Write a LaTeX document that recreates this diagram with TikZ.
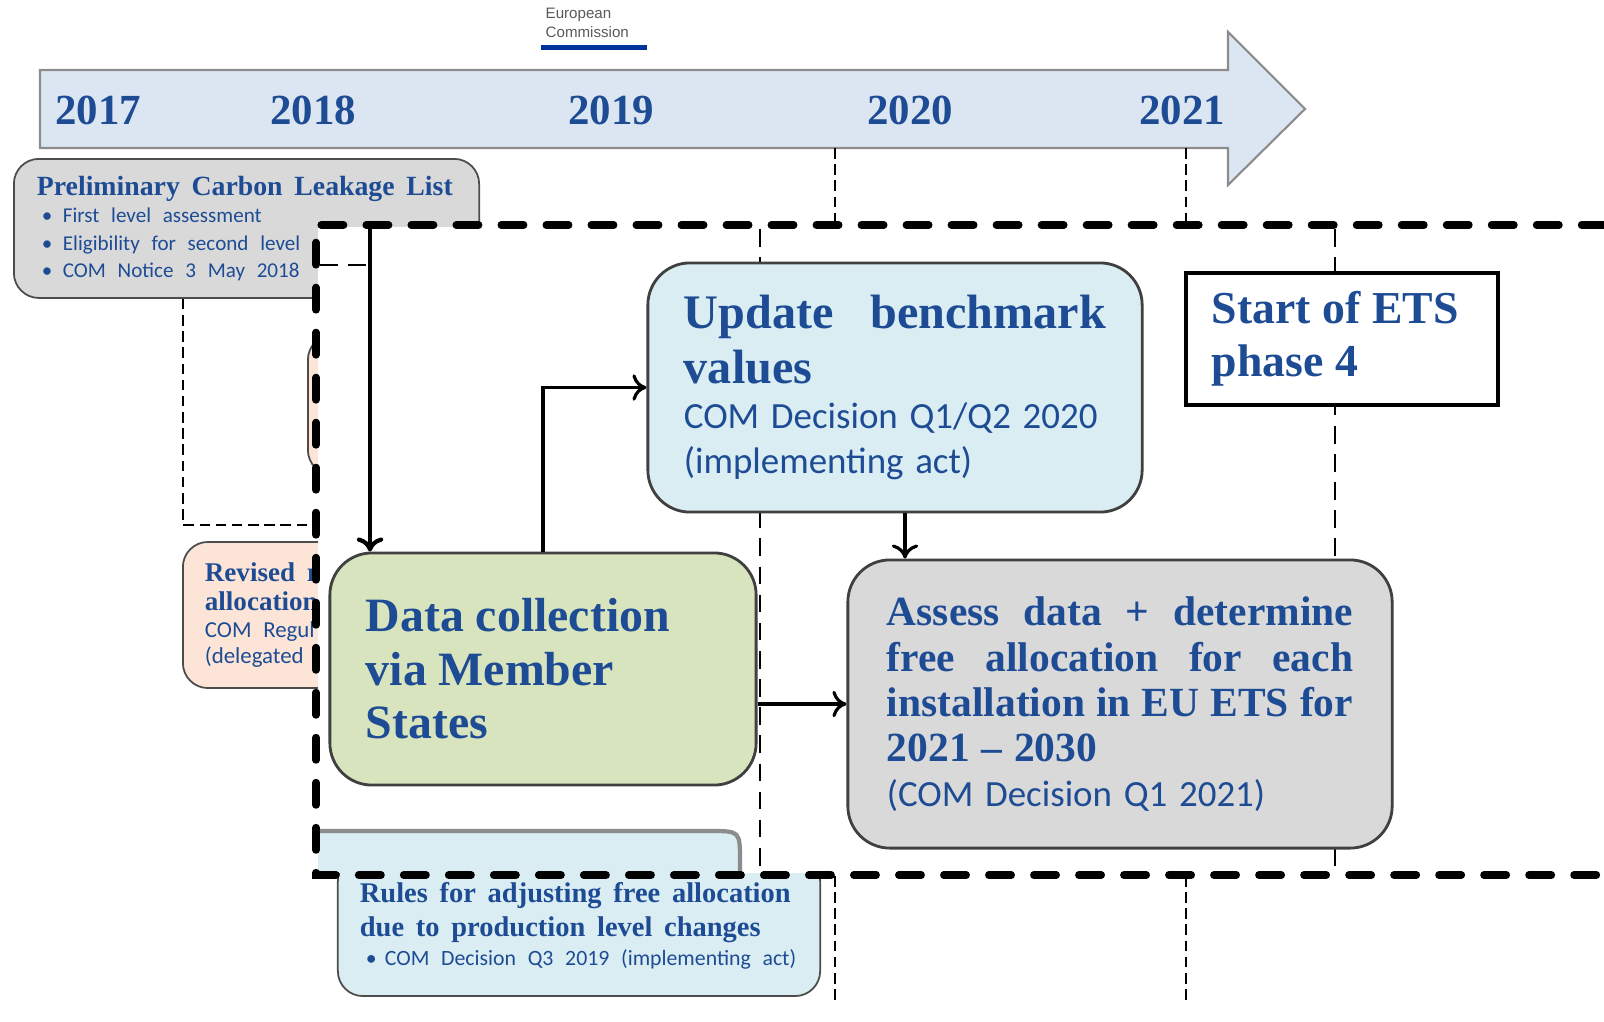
\documentclass[tikz,border=0pt]{standalone}
\usepackage{fontspec}
\setmainfont{Liberation Serif}
\newfontfamily\carlfont{Carlito}
\newfontfamily\logofont{Liberation Sans}
\usepackage{xcolor}
\usepackage{tikz}
\usetikzlibrary{arrows.meta,shapes,positioning}

\definecolor{ecblue}{RGB}{30,76,148}
\definecolor{arrowblue}{RGB}{220,230,242}
\definecolor{clgrey}{RGB}{217,217,217}
\definecolor{ublue}{RGB}{218,237,243}
\definecolor{dcgreen}{RGB}{216,228,190}
\definecolor{peach}{RGB}{252,229,214}
\definecolor{ecbar}{RGB}{0,51,153}

\newcommand{\fsz}[2]{\fontsize{#1pt}{#2pt}\selectfont}
\newcommand{\bul}{\hspace*{0.05cm}\makebox[0.21cm][l]{•}}

\tikzset{
  year/.style={text=ecblue, font=\fsz{12.2}{14}\bfseries},
  logo/.style={text=black!65, font=\logofont\fsz{4.3}{5}, inner sep=0pt, anchor=west},
  bgbox/.style={draw=black!70, line width=0.5pt, rounded corners=0.25cm, inner sep=0pt, text=ecblue, align=left},
  zbox/.style={draw=black!75, line width=0.8pt, rounded corners=0.42cm, inner sep=0pt, text=ecblue, align=left},
  thindash/.style={line width=0.4pt, dash pattern=on 3pt off 1.6pt},
  pdash/.style={line width=0.7pt, dash pattern=on 5pt off 3pt},
  zframe/.style={line width=2.1pt, line cap=round, dash pattern=on 6.4pt off 6.4pt},
  conn/.style={->, line width=0.9pt},
  tarrow/.style={fill=arrowblue, draw=black!45, line width=0.6pt}
}

\begin{document}
\begin{tikzpicture}[x=0.01cm, y=-0.01cm, >={To[length=4pt,width=7.5pt]}]
\useasboundingbox (0,0) rectangle (1604,1021);

% logo
\node[logo] (eu1) at (545,15) {European};
\node[logo] (eu2) at (545,32) {Commission};
\fill[ecbar] (541,45) rectangle (647,50);

% time line
\draw[tarrow] (40,70) -- (1228,70) -- (1228,32) -- (1305,109) -- (1228,185) -- (1228,148) -- (40,148) -- cycle;
\foreach \yr/\px in {2017/98,2018/313,2019/611,2020/910,2021/1182}
  \node[year] (y\yr) at (\px,110) {\yr};
\draw[thindash] (835,148) -- (835,1000);
\draw[thindash] (1186,148) -- (1186,1000);

% slide boxes
\node[bgbox, fill=clgrey, anchor=north west, minimum width=4.65cm, minimum height=1.39cm, text width=4.19cm] (pcl) at (13,158)
  {{\fsz{7.9}{9}\bfseries\mbox{Preliminary Carbon Leakage List}\par}
   {\carlfont\fsz{6.0}{7.8}\bul First level assessment\\ \bul Eligibility for second level\\ \bul COM Notice 3 May 2018\par}};
\node[bgbox, fill=peach, anchor=north west, minimum width=3.5cm, minimum height=1.4cm] (rhid) at (307,334) {};
\node[bgbox, fill=peach, anchor=west, minimum width=2.94cm, minimum height=1.46cm, text width=2.5cm] (rev) at (182,615)
  {{\fsz{7.7}{8.3}\bfseries Revised r\\allocation\par}
   {\carlfont\fsz{6.5}{7.6}COM Regul\\(delegated a\par}};
\coordinate (hid) at (340,525);
\draw[thindash] ([xshift=1.7cm]pcl.south west) |- (hid);
\node[bgbox, fill=ublue, minimum width=4.82cm, minimum height=1.4cm, text width=4.38cm] (rul) at (579,926)
  {{\fsz{8.1}{9.7}\bfseries\mbox{Rules for adjusting free allocation}\\\mbox{due to production level changes}\par}
   {\carlfont\fsz{6.2}{8.3}\hspace*{0.06cm}\makebox[0.19cm][l]{•}\mbox{COM Decision Q3 2019 (implementing act)}\par}};

% zoom panel
\fill[white] (318,227) rectangle (1604,873);
\draw[pdash] (760,229) -- (760,872);
\draw[pdash] (1335,229) -- (1335,872);
\fill[ublue] (318,831) -- (710,831) .. controls (740,831) .. (740,861) -- (740,873) -- (318,873) -- cycle;
\draw[black!45, line width=1.2pt] (318,831) -- (710,831) .. controls (740,831) .. (740,861) -- (740,873);

\node[zbox, fill=ublue, minimum width=4.94cm, minimum height=2.49cm, text width=4.22cm] (upd) at (895,387.5)
  {{\fsz{13.7}{15.6}\bfseries Update\hfill benchmark\\values\par}
   {\carlfont\fsz{10.5}{12.9}\mbox{COM Decision Q1/Q2 2020}\\\mbox{(implementing act)}\par}};
\node[draw=black, line width=1.1pt, fill=white, text=ecblue, align=left, inner sep=0pt, minimum width=3.12cm, minimum height=1.32cm, text width=2.6cm] (ets) at (1342,339)
  {{\fsz{13}{15}\bfseries Start of ETS\\phase 4\par}};
\node[zbox, fill=dcgreen, minimum width=4.26cm, minimum height=2.32cm, text width=3.54cm] (dc) at (543,669)
  {{\fsz{13.6}{15.2}\bfseries Data collection\\via Member\\States\par}};
\node[zbox, fill=clgrey, minimum width=5.44cm, minimum height=2.88cm, text width=4.66cm] (asd) at (1120,704)
  {{\fsz{11.8}{12.9}\bfseries Assess\hfill data\hfill +\hfill determine\\free\hfill allocation\hfill for\hfill each\\installation\hfill in\hfill EU\hfill ETS\hfill for\\2021 – 2030\par}
   {\carlfont\fsz{10.5}{12.6}\mbox{(COM Decision Q1 2021)}\par}};

\draw[conn] (dc.north) |- (upd.west);
\draw[conn] ([xshift=0.1cm]upd.south) -- ([xshift=0.1cm]upd.south |- asd.north);
\draw[conn] (dc.east |- asd.west) -- (asd.west);
\coordinate (ztop) at (370,229);
\draw[conn, line width=1.2pt] (ztop) -- (ztop |- dc.north);
\coordinate (zleft) at (320,265);
\draw[pdash] (zleft) -- (zleft -| ztop);

\draw[zframe] (1604,225) -- (316,225) -- (316,875) -- (1604,875);
\end{tikzpicture}
\end{document}
